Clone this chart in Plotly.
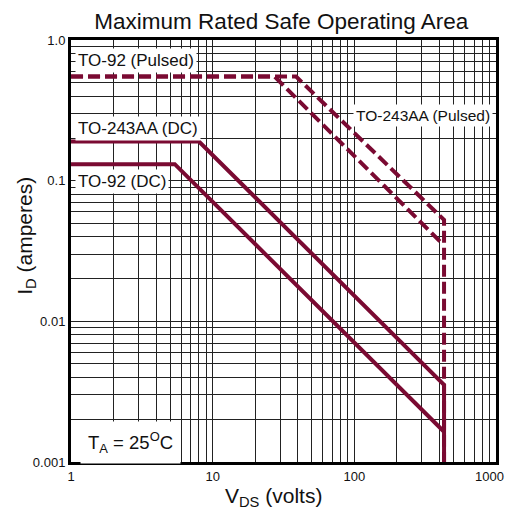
import math
import plotly.graph_objects as go

# --- data ---
to243_pulsed_v = [1, 38.8, 430, 430]
to243_pulsed_i = [0.55, 0.55, 0.0526, 0.001]
to92_pulsed_v = [1, 27.3, 415]
to92_pulsed_i = [0.55, 0.55, 0.0359]
to243_dc_v = [1, 8.0, 430, 430]
to243_dc_i = [0.19, 0.19, 0.00353, 0.001]
to92_dc_v = [1, 5.4, 430]
to92_dc_i = [0.131, 0.131, 0.00164]

x_major = [1, 10, 100, 1000]
x_major_text = ["1", "10", "100", "1000"]
y_major = [0.001, 0.01, 0.1, 1.0]
y_major_text = ["0.001", "0.01", "0.1", "1.0"]

COLOR = "#7a0a32"
FONT = "Liberation Sans, Arial, sans-serif"


def log_grid(decades):
    vals = []
    for d in decades:
        for k in range(1, 10):
            vals.append(k * d)
    return vals


x_vals = log_grid([1, 10, 100]) + [1000]
# the last label ("1000") is drawn separately so it stays inside the page
x_text = [x_major_text[x_major.index(v)] if (v in x_major and v != 1000) else "" for v in x_vals]
y_vals = log_grid([0.001, 0.01, 0.1]) + [1.0]
y_text = []
for v in y_vals:
    match = [t for m, t in zip(y_major, y_major_text) if abs(m - v) < 1e-12]
    y_text.append(match[0] if match else "")

fig = go.Figure()
dash = "12px,5px"
fig.add_trace(go.Scatter(x=to243_pulsed_v, y=to243_pulsed_i, mode="lines",
                         line=dict(color=COLOR, width=4, dash=dash)))
fig.add_trace(go.Scatter(x=to92_pulsed_v, y=to92_pulsed_i, mode="lines",
                         line=dict(color=COLOR, width=4, dash=dash)))
fig.add_trace(go.Scatter(x=to243_dc_v, y=to243_dc_i, mode="lines",
                         line=dict(color=COLOR, width=4)))
fig.add_trace(go.Scatter(x=to92_dc_v, y=to92_dc_i, mode="lines",
                         line=dict(color=COLOR, width=4)))

ann = [
    dict(x=1.0, y=0.713, text="TO-92 (Pulsed)", size=17, xshift=4),
    dict(x=1.0, y=0.236, text="TO-243AA (DC)", size=17, xshift=4),
    dict(x=1.0, y=0.0984, text="TO-92 (DC)", size=17, xshift=4),
    dict(x=100, y=0.293, text="TO-243AA (Pulsed)", size=15.5, xshift=-1),
]
for a in ann:
    fig.add_annotation(x=math.log10(a["x"]), y=math.log10(a["y"]), xref="x", yref="y",
                       text=a["text"], showarrow=False, xanchor="left",
                       yanchor="middle", bgcolor="white", borderpad=2,
                       font=dict(family=FONT, size=a["size"], color="#111"),
                       xshift=a["xshift"])
fig.add_annotation(x=0.0, y=math.log10(0.00138), xref="x", yref="y",
                   text="T<sub>A</sub> = 25<sup>O</sup>C", showarrow=False,
                   xanchor="left", yanchor="middle", bgcolor="white",
                   borderpad=7, font=dict(family=FONT, size=18.5, color="#111"), xshift=9)

# "1000" tick label
fig.add_annotation(x=math.log10(x_major[-1]), y=0, xref="x", yref="paper",
                   text=x_major_text[-1], showarrow=False, xanchor="center",
                   yanchor="top", yshift=-5, xshift=-6,
                   font=dict(family=FONT, size=13, color="#111"))

# axis titles (placed as annotations to match the reference offsets)
fig.add_annotation(x=0.476, y=-0.084, xref="paper", yref="paper",
                   text="V<sub>DS</sub> (volts)", showarrow=False,
                   xanchor="center", yanchor="middle",
                   font=dict(family=FONT, size=21, color="#111"))
fig.add_annotation(x=-0.105, y=0.537, xref="paper", yref="paper",
                   text="I<sub>D</sub> (amperes)", showarrow=False, textangle=-90,
                   xanchor="center", yanchor="middle",
                   font=dict(family=FONT, size=21, color="#111"))

fig.update_layout(
    width=506, height=519,
    margin=dict(l=71, r=10, t=40, b=57),
    paper_bgcolor="white", plot_bgcolor="white",
    showlegend=False,
    font=dict(family=FONT, color="#111"),
    title=dict(text="Maximum Rated Safe Operating Area", x=0.556, xanchor="center",
               y=1 - 21 / 519, yanchor="middle", yref="container",
               font=dict(family=FONT, size=22.5, color="#111")),
)
fig.update_xaxes(type="log", range=[-0.0002, 3.0002], tickmode="array", tickvals=x_vals,
                 ticktext=x_text, automargin=False,
                 showgrid=True, gridcolor="#222", gridwidth=1, ticks="",
                 showline=True, mirror=True, linecolor="black", linewidth=3,
                 tickfont=dict(family=FONT, size=13, color="#111"),
                 zeroline=False)
fig.update_yaxes(type="log", range=[-3.0002, 0.0002], tickmode="array", tickvals=y_vals,
                 ticktext=y_text, automargin=False,
                 showgrid=True, gridcolor="#222", gridwidth=1, ticks="",
                 showline=True, mirror=True, linecolor="black", linewidth=3,
                 tickfont=dict(family=FONT, size=13, color="#111"),
                 zeroline=False)

fig.write_html("out.html", config={"displayModeBar": False},
               post_script="document.body.style.margin='0px';document.body.style.overflow='hidden';")
